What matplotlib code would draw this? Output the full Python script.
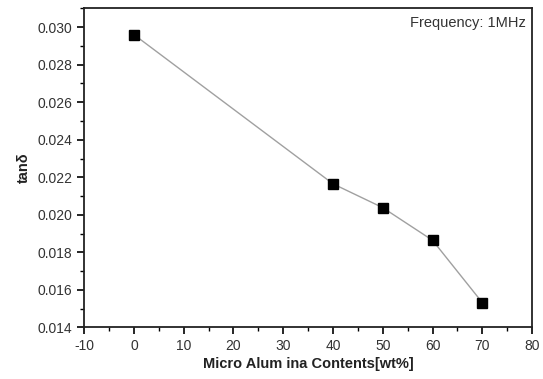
import matplotlib
matplotlib.use("Agg")
import matplotlib.pyplot as plt
from matplotlib.ticker import MultipleLocator

plt.rcParams['font.family'] = ['Liberation Sans', 'DejaVu Sans']
plt.rcParams['axes.unicode_minus'] = False

# data
alumina = [0, 40, 50, 60, 70]
tan_delta = [0.0296, 0.02165, 0.02038, 0.01864, 0.01532]

fig = plt.figure(figsize=(5.43, 3.79), dpi=100)
ax = fig.add_axes([0.155, 0.136, 0.825, 0.842])

ax.plot(alumina, tan_delta, color='#a0a0a0', linewidth=1.0, zorder=1)
ax.plot(alumina, tan_delta, linestyle='none', marker='s', markersize=7,
        color='black', zorder=2)

ax.set_xlim(-10, 80)
ax.set_ylim(0.014, 0.031)
ax.xaxis.set_major_locator(MultipleLocator(10))
ax.xaxis.set_minor_locator(MultipleLocator(5))
ax.yaxis.set_major_locator(MultipleLocator(0.002))
ax.yaxis.set_minor_locator(MultipleLocator(0.001))
ax.yaxis.set_major_formatter(plt.FormatStrFormatter('%.3f'))

ax.tick_params(which='major', direction='out', length=5, width=1.2,
               labelsize=10, labelcolor='#333333', top=False, right=False)
ax.tick_params(which='minor', direction='out', length=3, width=1.0,
               top=False, right=False)
for s in ax.spines.values():
    s.set_linewidth(1.3)
    s.set_color('#222222')

ax.set_xlabel('Micro Alum ina Contents[wt%]', fontsize=10.5, fontweight='bold',
              labelpad=3, color='#222222')
ax.set_ylabel('tanδ', fontsize=10.5, fontweight='bold', labelpad=5,
              color='#222222')

ax.text(0.985, 0.975, 'Frequency: 1MHz', transform=ax.transAxes,
        ha='right', va='top', fontsize=10.5, color='#333333')

fig.savefig('out.png', dpi=100)
